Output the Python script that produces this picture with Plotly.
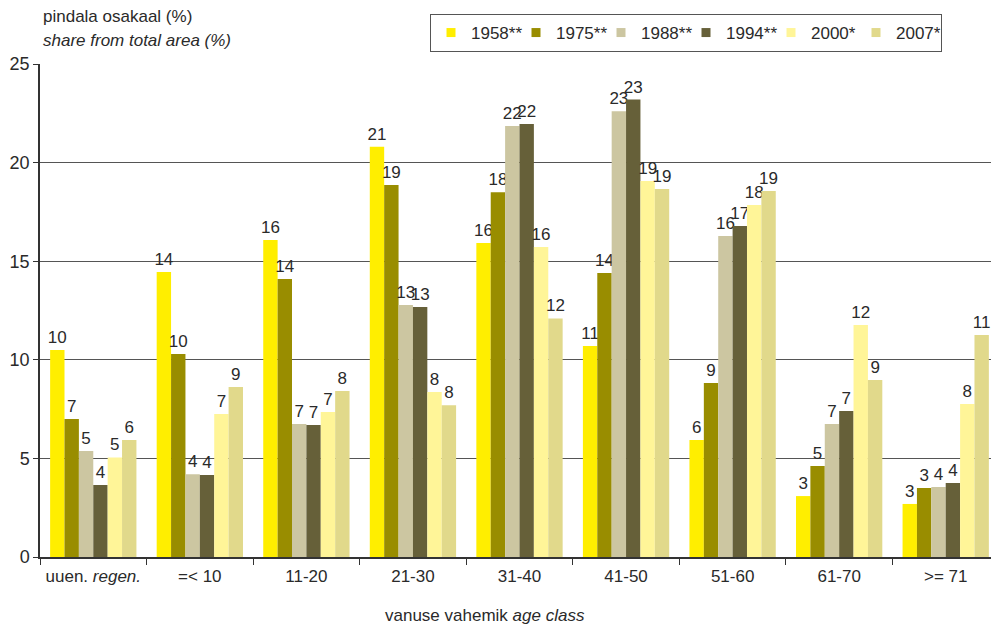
import plotly.graph_objects as go

categories = ["uuen. <i>regen.</i>", "=< 10", "11-20", "21-30", "31-40", "41-50", "51-60", "61-70", ">= 71"]
series_names = ["1958**", "1975**", "1988**", "1994**", "2000*", "2007*"]

v1958 = [10.5, 14.45, 16.07, 20.8, 15.92, 10.7, 5.93, 3.09, 2.69]
v1975 = [7.0, 10.3, 14.1, 18.86, 18.5, 14.4, 8.82, 4.61, 3.5]
v1988 = [5.38, 4.2, 6.74, 12.78, 21.86, 22.6, 16.28, 6.74, 3.55]
v1994 = [3.65, 4.16, 6.69, 12.68, 21.96, 23.2, 16.78, 7.4, 3.75]
v2000 = [5.05, 7.25, 7.35, 8.37, 15.72, 19.07, 17.85, 11.76, 7.76]
v2007 = [5.93, 8.62, 8.42, 7.7, 12.1, 18.66, 18.56, 8.98, 11.26]

l1958 = ["10", "14", "16", "21", "16", "11", "6", "3", "3"]
l1975 = ["7", "10", "14", "19", "18", "14", "9", "5", "3"]
l1988 = ["5", "4", "7", "13", "22", "23", "16", "7", "4"]
l1994 = ["4", "4", "7", "13", "22", "23", "17", "7", "4"]
l2000 = ["5", "7", "7", "8", "16", "19", "18", "12", "8"]
l2007 = ["6", "9", "8", "8", "12", "19", "19", "9", "11"]

y_ticks = [0, 5, 10, 15, 20, 25]

colors = ["#FFEE00", "#998D00", "#CCC6A1", "#666039", "#FFF598", "#E1D98B"]
values = [v1958, v1975, v1988, v1994, v2000, v2007]
labels = [l1958, l1975, l1988, l1994, l2000, l2007]

FONT = "Liberation Sans, Arial, sans-serif"

fig = go.Figure()
for name, vals, labs, col in zip(series_names, values, labels, colors):
    fig.add_trace(go.Bar(
        x=categories, y=vals, name=name, text=labs,
        textposition="outside", constraintext="none", cliponaxis=False,
        textfont=dict(family=FONT, size=17, color="#2a2a2a"),
        marker=dict(color=col, line=dict(width=0)),
        showlegend=False, hoverinfo="skip",
    ))
# legend entries with small square markers
for name, col in zip(series_names, colors):
    fig.add_trace(go.Scatter(
        x=[None], y=[None], mode="markers", name=name,
        marker=dict(symbol="square", size=9, color=col),
    ))

fig.update_layout(
    width=991, height=625,
    margin=dict(l=40, r=0, t=64, b=68, autoexpand=False),
    paper_bgcolor="white", plot_bgcolor="white",
    barmode="group", bargap=0.19, bargroupgap=0,
    font=dict(family=FONT, size=17, color="#2a2a2a"),
    legend=dict(
        orientation="h", xref="container", yref="container",
        x=430 / 991, y=1 - 14 / 625, xanchor="left", yanchor="top",
        bordercolor="#555555", borderwidth=1, bgcolor="white",
        font=dict(family=FONT, size=17, color="#2a2a2a"),
        entrywidth=40, itemwidth=30, tracegroupgap=0,
    ),
    xaxis=dict(
        range=[-0.5, 8.425], showgrid=False, automargin=False,
        showline=True, linecolor="#333333", linewidth=1.5,
        ticks="outside", tickson="boundaries", ticklen=6, tickcolor="#333333",
        tickfont=dict(family=FONT, size=17, color="#2a2a2a"),
        ticklabelstandoff=3, fixedrange=True,
    ),
    yaxis=dict(
        range=[0, 25], tickvals=y_ticks, automargin=False,
        showgrid=True, gridcolor="#555555", gridwidth=1.2,
        showline=True, linecolor="#333333", linewidth=1.5,
        ticks="outside", ticklen=5, tickcolor="#333333",
        tickfont=dict(family=FONT, size=18, color="#2a2a2a"),
        zeroline=False, fixedrange=True,
    ),
    annotations=[
        dict(text="pindala osakaal (%)", xref="paper", yref="paper",
             x=(41 - 40) / 951, y=1 + (64 - 16) / 493, xanchor="left", yanchor="middle",
             showarrow=False, font=dict(family=FONT, size=17, color="#2a2a2a")),
        dict(text="<i>share from total area (%)</i>", xref="paper", yref="paper",
             x=(41 - 40) / 951, y=1 + (64 - 40) / 493, xanchor="left", yanchor="middle",
             showarrow=False, font=dict(family=FONT, size=17, color="#2a2a2a")),
        dict(text="vanuse vahemik <i>age class</i>", xref="paper", yref="paper",
             x=(485 - 40) / 951, y=-(615 - 557) / 493, xanchor="center", yanchor="middle",
             showarrow=False, font=dict(family=FONT, size=17, color="#2a2a2a")),
    ],
)

fig.write_html(
    "out.html",
    config={"displayModeBar": False},
    post_script="document.body.style.margin='0';document.body.style.overflow='hidden';",
)
